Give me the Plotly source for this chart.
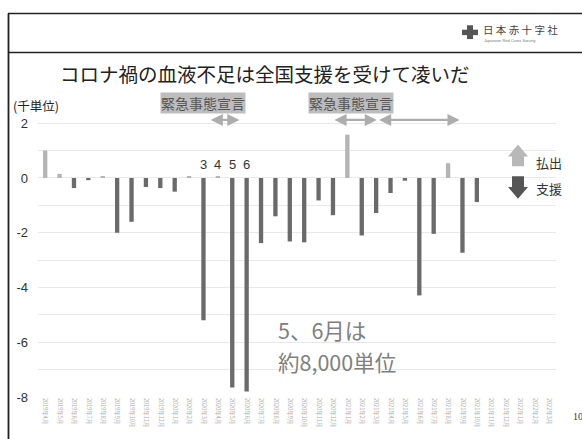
import plotly.graph_objects as go

# ---------------- data ----------------
months = ["2019年4月", "2019年5月", "2019年6月", "2019年7月", "2019年8月", "2019年9月",
          "2019年10月", "2019年11月", "2019年12月", "2020年1月", "2020年2月", "2020年3月",
          "2020年4月", "2020年5月", "2020年6月", "2020年7月", "2020年8月", "2020年9月",
          "2020年10月", "2020年11月", "2020年12月", "2021年1月", "2021年2月", "2021年3月",
          "2021年4月", "2021年5月", "2021年6月", "2021年7月", "2021年8月", "2021年9月",
          "2021年10月", "2021年11月", "2021年12月", "2022年1月", "2022年2月", "2022年3月"]
values = [1.0, 0.15, -0.37, -0.08, 0.05, -2.0, -1.6, -0.33, -0.37, -0.5, 0.05, -5.2,
          0.05, -7.65, -7.8, -2.38, -1.4, -2.32, -2.35, -0.82, -1.36, 1.58, -2.1, -1.28,
          -0.55, -0.1, -4.29, -2.04, 0.54, -2.73, -0.88, None, None, None, None, None]
highlight_idx = [11, 12, 13, 14]
highlight_lbl = ["3", "4", "5", "6"]
emergency_spans = [(11.4, 13.5), (20.0, 23.05), (23.1, 28.8)]
ytick_vals = [-8, -6, -4, -2, 0, 2]

LIGHT = "#b4b4b4"
DARK = "#6a6a6a"
JP = "Noto Sans CJK JP"

W, H = 582, 439
L, R, T, B = 38, 556, 115, 401  # plot area in pixels


def px(x):
    return (x - L) / (R - L)


def py(y):
    return (B - y) / (B - T)


x_idx = list(range(len(months)))
colors = [LIGHT if (v is not None and v > 0) else DARK for v in values]

fig = go.Figure()
fig.add_trace(go.Bar(x=x_idx, y=values, marker=dict(color=colors, line=dict(width=0)),
                     width=0.3, hoverinfo="skip"))

annotations = []
shapes = []

# frame lines of slide
line_c = "#222222"
shapes.append(dict(type="line", xref="paper", yref="paper", x0=px(8), x1=px(590), y0=py(12), y1=py(12),
                   line=dict(color=line_c, width=1.5)))
shapes.append(dict(type="line", xref="paper", yref="paper", x0=px(8), x1=px(590), y0=py(51.5), y1=py(51.5),
                   line=dict(color=line_c, width=1.5)))
shapes.append(dict(type="line", xref="paper", yref="paper", x0=px(8.5), x1=px(8.5), y0=py(12), y1=py(445),
                   line=dict(color=line_c, width=1.8)))

# logo
cross_c = "#555555"
shapes.append(dict(type="rect", xref="paper", yref="paper", x0=px(467), x1=px(473), y0=py(24), y1=py(38),
                   fillcolor=cross_c, line=dict(width=0)))
shapes.append(dict(type="rect", xref="paper", yref="paper", x0=px(462), x1=px(478), y0=py(28.5), y1=py(34),
                   fillcolor=cross_c, line=dict(width=0)))
annotations.append(dict(xref="paper", yref="paper", x=px(481), y=py(28), xanchor="left", yanchor="middle",
                        text="日 本 赤 十 字 社", showarrow=False, font=dict(family=JP, size=10.5, color="#444")))
annotations.append(dict(xref="paper", yref="paper", x=px(482), y=py(39.5), xanchor="left", yanchor="middle",
                        text="Japanese Red Cross Society", showarrow=False,
                        font=dict(family="Liberation Sans", size=4, color="#777")))

# title
annotations.append(dict(xref="paper", yref="paper", x=px(265), y=py(73), xanchor="center", yanchor="middle",
                        text="コロナ禍の血液不足は全国支援を受けて凌いだ", showarrow=False,
                        font=dict(family=JP, size=19.5, color="#222")))
# unit
annotations.append(dict(xref="paper", yref="paper", x=px(11), y=py(105), xanchor="left", yanchor="middle",
                        text="(千単位)", showarrow=False, font=dict(family=JP, size=12.5, color="#222")))

# emergency labels
for cx in (202.5, 350.5):
    annotations.append(dict(xref="paper", yref="paper", x=px(cx), y=py(103), xanchor="center",
                            yanchor="middle", text="緊急事態宣言", showarrow=False, bgcolor="#bdbdbd",
                            borderpad=0, font=dict(family=JP, size=14, color="#555")))

# emergency arrows
arrow_y = (B - 120) / ((B - T) / 10.3) - 8
for a, b in emergency_spans:
    annotations.append(dict(xref="x", yref="y", axref="x", ayref="y", x=b, y=arrow_y, ax=a, ay=arrow_y,
                            text="", showarrow=True, arrowhead=2, arrowside="end+start", arrowsize=1.1,
                            arrowwidth=2.2, arrowcolor="#adadad", standoff=0, startstandoff=0))

# month labels 3 4 5 6
for i, t in zip(highlight_idx, highlight_lbl):
    annotations.append(dict(xref="x", yref="y", x=i, y=0.5, text=t, showarrow=False, xanchor="center",
                            yanchor="middle", font=dict(family="Liberation Sans", size=13, color="#333")))

# legend arrows (block)
def block_arrow(x0, x1, sx0, sx1, y_tip, y_base, y_end):
    pts = [(x0, y_base), ((x0 + x1) / 2, y_tip), (x1, y_base), (sx1, y_base), (sx1, y_end), (sx0, y_end),
           (sx0, y_base)]
    d = "M " + " L ".join(f"{px(a):.5f},{py(b):.5f}" for a, b in pts) + " Z"
    return d


shapes.append(dict(type="path", xref="paper", yref="paper", path=block_arrow(508, 528, 512, 524, 145, 157, 167),
                   fillcolor="#b8b8b8", line=dict(width=0)))
shapes.append(dict(type="path", xref="paper", yref="paper", path=block_arrow(508, 528, 512, 524, 200, 188, 177),
                   fillcolor="#555555", line=dict(width=0)))
annotations.append(dict(xref="paper", yref="paper", x=px(534), y=py(163), xanchor="left", yanchor="middle",
                        text="払出", showarrow=False, font=dict(family=JP, size=13, color="#333")))
annotations.append(dict(xref="paper", yref="paper", x=px(534), y=py(190), xanchor="left", yanchor="middle",
                        text="支援", showarrow=False, font=dict(family=JP, size=13, color="#333")))

# big note
annotations.append(dict(xref="paper", yref="paper", x=px(276), y=py(333), xanchor="left", yanchor="middle",
                        text="5、6月は", showarrow=False, font=dict(family=JP, size=21.5, color="#808080")))
annotations.append(dict(xref="paper", yref="paper", x=px(276), y=py(365.5), xanchor="left", yanchor="middle",
                        text="約8,000単位", showarrow=False, font=dict(family=JP, size=21.5, color="#808080")))

# page number
annotations.append(dict(xref="paper", yref="paper", x=px(571), y=py(421), xanchor="left", yanchor="middle",
                        text="10", showarrow=False, font=dict(family="Liberation Serif", size=10, color="#333")))

fig.update_layout(
    width=W, height=H,
    margin=dict(l=L, r=W - R, t=T, b=H - B, pad=0),
    paper_bgcolor="white", plot_bgcolor="white",
    showlegend=False,
    bargap=0.7,
    annotations=annotations,
    shapes=shapes,
    xaxis=dict(range=[-0.5, len(months) - 0.5], tickmode="array", tickvals=x_idx, ticktext=months,
               tickangle=90, tickfont=dict(family=JP, size=5.5, color="#adadad"), showgrid=False,
               zeroline=False, showline=False, ticks=""),
    yaxis=dict(range=[-8, 2.3], tickmode="array", tickvals=ytick_vals,
               ticktext=[str(v) for v in ytick_vals], tickfont=dict(family="Liberation Sans", size=13, color="#333"),
               showgrid=True, gridcolor="#e9e9e9", gridwidth=1, zeroline=False, showline=False, ticks="",
               ticklabelstandoff=9,
               minor=dict(tickmode="linear", tick0=0, dtick=1, showgrid=True, gridcolor="#e9e9e9", gridwidth=1)),
)

fig.write_html("out.html")
